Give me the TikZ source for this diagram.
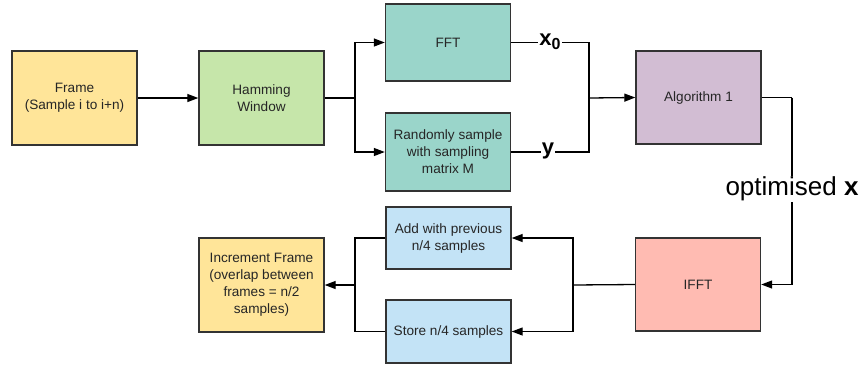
\documentclass[tikz,border=0pt]{standalone}
\usepackage{fontspec}
\setmainfont{Liberation Sans}
\usetikzlibrary{arrows.meta}
\definecolor{cYel}{HTML}{FFE599}
\definecolor{cGrn}{HTML}{C6E6AA}
\definecolor{cTeal}{HTML}{9AD5CA}
\definecolor{cPur}{HTML}{D2BDD3}
\definecolor{cRed}{HTML}{FFBBB2}
\definecolor{cBlu}{HTML}{C3E3F6}
\definecolor{cBord}{HTML}{333333}
\tikzset{
  blk/.style={draw=cBord, line width=1.4pt, minimum width=125pt, align=center,
    inner sep=2pt, font=\fontsize{13.6}{17}\selectfont, text=black!85},
  conn/.style={line width=1.3pt, draw=black},
  arr/.style={conn, -{Triangle[length=11pt,width=8pt]}},
  lbl/.style={fill=white, inner sep=1pt, font=\fontsize{26}{28}\selectfont}
}
\begin{document}
\begin{tikzpicture}[x=1pt,y=-1pt]
\useasboundingbox (0,0) rectangle (861,365);
\node[blk, fill=cYel, minimum height=94pt] (frame) at (74.5,98) {Frame\\(Sample i to i+n)};
\node[blk, fill=cGrn, minimum height=94pt] (ham) at (261.5,98) {Hamming\\Window};
\node[blk, fill=cTeal, minimum height=77pt] (fft) at (448,42.5) {FFT};
\node[blk, fill=cTeal, minimum height=78pt] (rnd) at (448,152) {Randomly sample\\with sampling\\matrix M};
\node[blk, fill=cPur, minimum height=93pt] (alg) at (698.5,97.5) {Algorithm 1};
\node[blk, fill=cRed, minimum height=93pt] (ifft) at (698,284.5) {IFFT};
\node[blk, fill=cBlu, minimum height=62pt] (add) at (448.5,238) {Add with previous\\n/4 samples};
\node[blk, fill=cBlu, minimum height=63pt] (store) at (448.5,331.5) {Store n/4 samples};
\node[blk, fill=cYel, minimum height=94pt] (inc) at (261.5,285) {Increment Frame\\(overlap between\\frames = n/2\\samples)};

\coordinate (j1) at (355,98);
\coordinate (j2) at (589,98);
\coordinate (j3) at (573,285);
\coordinate (j4) at (355,285);
\coordinate (j5) at (792,97.5);

\draw[arr] (frame.east) -- (ham.west);
\draw[conn] (ham.east) -- (j1);
\draw[arr] (j1) |- (fft.west);
\draw[arr] (j1) |- (rnd.west);
\draw[conn] (fft.east) -- (fft.east -| j2) -- (rnd.east -| j2) -- (rnd.east);
\draw[arr] (j2) -- (alg.west);
\node[lbl, font=\fontsize{22}{24}\selectfont\bfseries] (x0) at (550,42) {x\raisebox{-0.35ex}{\fontsize{16}{16}\selectfont 0}};
\node[lbl, font=\fontsize{22}{24}\selectfont\bfseries] (ylab) at (548,151) {y};
\draw[conn] (alg.east) -- (j5);
\draw[arr] (j5) |- (ifft.east);
\node[lbl] (opt) at (792,189) {optimised \textbf{x}};
\draw[conn] (ifft.west) -- (j3);
\draw[arr] (j3) |- (add.east);
\draw[arr] (j3) |- (store.east);
\draw[conn] (add.west) -- (add.west -| j4) -- (store.west -| j4) -- (store.west);
\draw[arr] (j4) -- (inc.east);
\end{tikzpicture}
\end{document}
